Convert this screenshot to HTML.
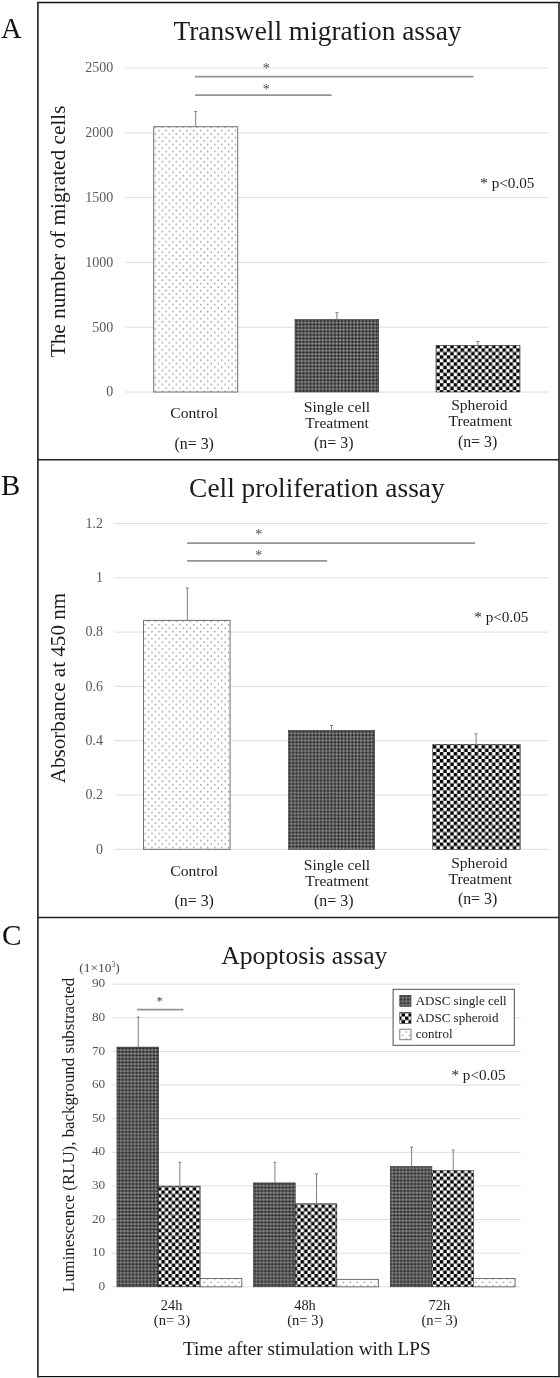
<!DOCTYPE html>
<html><head><meta charset="utf-8"><title>Figure</title>
<style>html,body{margin:0;padding:0;background:#fff}svg{display:block}text{font-family:"Liberation Serif",serif}</style>
</head><body>
<svg width="560" height="1378" viewBox="0 0 560 1378">
<defs>
<pattern id="dots" width="55.680" height="55.680" patternUnits="userSpaceOnUse" patternTransform="translate(1.2,0.6)">
<rect width="55.680" height="55.680" fill="#fff"/>
<circle cx="1.20" cy="1.20" r="0.85" fill="#a0a0a0"/>
<circle cx="4.68" cy="4.68" r="0.85" fill="#a0a0a0"/>
<circle cx="1.20" cy="8.16" r="0.85" fill="#a0a0a0"/>
<circle cx="4.68" cy="11.64" r="0.85" fill="#a0a0a0"/>
<circle cx="1.20" cy="15.12" r="0.85" fill="#a0a0a0"/>
<circle cx="4.68" cy="18.60" r="0.85" fill="#a0a0a0"/>
<circle cx="1.20" cy="22.08" r="0.85" fill="#a0a0a0"/>
<circle cx="4.68" cy="25.56" r="0.85" fill="#a0a0a0"/>
<circle cx="1.20" cy="29.04" r="0.85" fill="#a0a0a0"/>
<circle cx="4.68" cy="32.52" r="0.85" fill="#a0a0a0"/>
<circle cx="1.20" cy="36.00" r="0.85" fill="#a0a0a0"/>
<circle cx="4.68" cy="39.48" r="0.85" fill="#a0a0a0"/>
<circle cx="1.20" cy="42.96" r="0.85" fill="#a0a0a0"/>
<circle cx="4.68" cy="46.44" r="0.85" fill="#a0a0a0"/>
<circle cx="1.20" cy="49.92" r="0.85" fill="#a0a0a0"/>
<circle cx="4.68" cy="53.40" r="0.85" fill="#a0a0a0"/>
<circle cx="8.16" cy="1.20" r="0.85" fill="#a0a0a0"/>
<circle cx="11.64" cy="4.68" r="0.85" fill="#a0a0a0"/>
<circle cx="8.16" cy="8.16" r="0.85" fill="#a0a0a0"/>
<circle cx="11.64" cy="11.64" r="0.85" fill="#a0a0a0"/>
<circle cx="8.16" cy="15.12" r="0.85" fill="#a0a0a0"/>
<circle cx="11.64" cy="18.60" r="0.85" fill="#a0a0a0"/>
<circle cx="8.16" cy="22.08" r="0.85" fill="#a0a0a0"/>
<circle cx="11.64" cy="25.56" r="0.85" fill="#a0a0a0"/>
<circle cx="8.16" cy="29.04" r="0.85" fill="#a0a0a0"/>
<circle cx="11.64" cy="32.52" r="0.85" fill="#a0a0a0"/>
<circle cx="8.16" cy="36.00" r="0.85" fill="#a0a0a0"/>
<circle cx="11.64" cy="39.48" r="0.85" fill="#a0a0a0"/>
<circle cx="8.16" cy="42.96" r="0.85" fill="#a0a0a0"/>
<circle cx="11.64" cy="46.44" r="0.85" fill="#a0a0a0"/>
<circle cx="8.16" cy="49.92" r="0.85" fill="#a0a0a0"/>
<circle cx="11.64" cy="53.40" r="0.85" fill="#a0a0a0"/>
<circle cx="15.12" cy="1.20" r="0.85" fill="#a0a0a0"/>
<circle cx="18.60" cy="4.68" r="0.85" fill="#a0a0a0"/>
<circle cx="15.12" cy="8.16" r="0.85" fill="#a0a0a0"/>
<circle cx="18.60" cy="11.64" r="0.85" fill="#a0a0a0"/>
<circle cx="15.12" cy="15.12" r="0.85" fill="#a0a0a0"/>
<circle cx="18.60" cy="18.60" r="0.85" fill="#a0a0a0"/>
<circle cx="15.12" cy="22.08" r="0.85" fill="#a0a0a0"/>
<circle cx="18.60" cy="25.56" r="0.85" fill="#a0a0a0"/>
<circle cx="15.12" cy="29.04" r="0.85" fill="#a0a0a0"/>
<circle cx="18.60" cy="32.52" r="0.85" fill="#a0a0a0"/>
<circle cx="15.12" cy="36.00" r="0.85" fill="#a0a0a0"/>
<circle cx="18.60" cy="39.48" r="0.85" fill="#a0a0a0"/>
<circle cx="15.12" cy="42.96" r="0.85" fill="#a0a0a0"/>
<circle cx="18.60" cy="46.44" r="0.85" fill="#a0a0a0"/>
<circle cx="15.12" cy="49.92" r="0.85" fill="#a0a0a0"/>
<circle cx="18.60" cy="53.40" r="0.85" fill="#a0a0a0"/>
<circle cx="22.08" cy="1.20" r="0.85" fill="#a0a0a0"/>
<circle cx="25.56" cy="4.68" r="0.85" fill="#a0a0a0"/>
<circle cx="22.08" cy="8.16" r="0.85" fill="#a0a0a0"/>
<circle cx="25.56" cy="11.64" r="0.85" fill="#a0a0a0"/>
<circle cx="22.08" cy="15.12" r="0.85" fill="#a0a0a0"/>
<circle cx="25.56" cy="18.60" r="0.85" fill="#a0a0a0"/>
<circle cx="22.08" cy="22.08" r="0.85" fill="#a0a0a0"/>
<circle cx="25.56" cy="25.56" r="0.85" fill="#a0a0a0"/>
<circle cx="22.08" cy="29.04" r="0.85" fill="#a0a0a0"/>
<circle cx="25.56" cy="32.52" r="0.85" fill="#a0a0a0"/>
<circle cx="22.08" cy="36.00" r="0.85" fill="#a0a0a0"/>
<circle cx="25.56" cy="39.48" r="0.85" fill="#a0a0a0"/>
<circle cx="22.08" cy="42.96" r="0.85" fill="#a0a0a0"/>
<circle cx="25.56" cy="46.44" r="0.85" fill="#a0a0a0"/>
<circle cx="22.08" cy="49.92" r="0.85" fill="#a0a0a0"/>
<circle cx="25.56" cy="53.40" r="0.85" fill="#a0a0a0"/>
<circle cx="29.04" cy="1.20" r="0.85" fill="#a0a0a0"/>
<circle cx="32.52" cy="4.68" r="0.85" fill="#a0a0a0"/>
<circle cx="29.04" cy="8.16" r="0.85" fill="#a0a0a0"/>
<circle cx="32.52" cy="11.64" r="0.85" fill="#a0a0a0"/>
<circle cx="29.04" cy="15.12" r="0.85" fill="#a0a0a0"/>
<circle cx="32.52" cy="18.60" r="0.85" fill="#a0a0a0"/>
<circle cx="29.04" cy="22.08" r="0.85" fill="#a0a0a0"/>
<circle cx="32.52" cy="25.56" r="0.85" fill="#a0a0a0"/>
<circle cx="29.04" cy="29.04" r="0.85" fill="#a0a0a0"/>
<circle cx="32.52" cy="32.52" r="0.85" fill="#a0a0a0"/>
<circle cx="29.04" cy="36.00" r="0.85" fill="#a0a0a0"/>
<circle cx="32.52" cy="39.48" r="0.85" fill="#a0a0a0"/>
<circle cx="29.04" cy="42.96" r="0.85" fill="#a0a0a0"/>
<circle cx="32.52" cy="46.44" r="0.85" fill="#a0a0a0"/>
<circle cx="29.04" cy="49.92" r="0.85" fill="#a0a0a0"/>
<circle cx="32.52" cy="53.40" r="0.85" fill="#a0a0a0"/>
<circle cx="36.00" cy="1.20" r="0.85" fill="#a0a0a0"/>
<circle cx="39.48" cy="4.68" r="0.85" fill="#a0a0a0"/>
<circle cx="36.00" cy="8.16" r="0.85" fill="#a0a0a0"/>
<circle cx="39.48" cy="11.64" r="0.85" fill="#a0a0a0"/>
<circle cx="36.00" cy="15.12" r="0.85" fill="#a0a0a0"/>
<circle cx="39.48" cy="18.60" r="0.85" fill="#a0a0a0"/>
<circle cx="36.00" cy="22.08" r="0.85" fill="#a0a0a0"/>
<circle cx="39.48" cy="25.56" r="0.85" fill="#a0a0a0"/>
<circle cx="36.00" cy="29.04" r="0.85" fill="#a0a0a0"/>
<circle cx="39.48" cy="32.52" r="0.85" fill="#a0a0a0"/>
<circle cx="36.00" cy="36.00" r="0.85" fill="#a0a0a0"/>
<circle cx="39.48" cy="39.48" r="0.85" fill="#a0a0a0"/>
<circle cx="36.00" cy="42.96" r="0.85" fill="#a0a0a0"/>
<circle cx="39.48" cy="46.44" r="0.85" fill="#a0a0a0"/>
<circle cx="36.00" cy="49.92" r="0.85" fill="#a0a0a0"/>
<circle cx="39.48" cy="53.40" r="0.85" fill="#a0a0a0"/>
<circle cx="42.96" cy="1.20" r="0.85" fill="#a0a0a0"/>
<circle cx="46.44" cy="4.68" r="0.85" fill="#a0a0a0"/>
<circle cx="42.96" cy="8.16" r="0.85" fill="#a0a0a0"/>
<circle cx="46.44" cy="11.64" r="0.85" fill="#a0a0a0"/>
<circle cx="42.96" cy="15.12" r="0.85" fill="#a0a0a0"/>
<circle cx="46.44" cy="18.60" r="0.85" fill="#a0a0a0"/>
<circle cx="42.96" cy="22.08" r="0.85" fill="#a0a0a0"/>
<circle cx="46.44" cy="25.56" r="0.85" fill="#a0a0a0"/>
<circle cx="42.96" cy="29.04" r="0.85" fill="#a0a0a0"/>
<circle cx="46.44" cy="32.52" r="0.85" fill="#a0a0a0"/>
<circle cx="42.96" cy="36.00" r="0.85" fill="#a0a0a0"/>
<circle cx="46.44" cy="39.48" r="0.85" fill="#a0a0a0"/>
<circle cx="42.96" cy="42.96" r="0.85" fill="#a0a0a0"/>
<circle cx="46.44" cy="46.44" r="0.85" fill="#a0a0a0"/>
<circle cx="42.96" cy="49.92" r="0.85" fill="#a0a0a0"/>
<circle cx="46.44" cy="53.40" r="0.85" fill="#a0a0a0"/>
<circle cx="49.92" cy="1.20" r="0.85" fill="#a0a0a0"/>
<circle cx="53.40" cy="4.68" r="0.85" fill="#a0a0a0"/>
<circle cx="49.92" cy="8.16" r="0.85" fill="#a0a0a0"/>
<circle cx="53.40" cy="11.64" r="0.85" fill="#a0a0a0"/>
<circle cx="49.92" cy="15.12" r="0.85" fill="#a0a0a0"/>
<circle cx="53.40" cy="18.60" r="0.85" fill="#a0a0a0"/>
<circle cx="49.92" cy="22.08" r="0.85" fill="#a0a0a0"/>
<circle cx="53.40" cy="25.56" r="0.85" fill="#a0a0a0"/>
<circle cx="49.92" cy="29.04" r="0.85" fill="#a0a0a0"/>
<circle cx="53.40" cy="32.52" r="0.85" fill="#a0a0a0"/>
<circle cx="49.92" cy="36.00" r="0.85" fill="#a0a0a0"/>
<circle cx="53.40" cy="39.48" r="0.85" fill="#a0a0a0"/>
<circle cx="49.92" cy="42.96" r="0.85" fill="#a0a0a0"/>
<circle cx="53.40" cy="46.44" r="0.85" fill="#a0a0a0"/>
<circle cx="49.92" cy="49.92" r="0.85" fill="#a0a0a0"/>
<circle cx="53.40" cy="53.40" r="0.85" fill="#a0a0a0"/>
</pattern>
<pattern id="chk" width="55.680" height="55.680" patternUnits="userSpaceOnUse" patternTransform="translate(1.32,0.38)">
<rect width="55.680" height="55.680" fill="#fff"/>
<path d="M0.00 0.00h3.48v3.48h-3.48zM0.00 6.96h3.48v3.48h-3.48zM0.00 13.92h3.48v3.48h-3.48zM0.00 20.88h3.48v3.48h-3.48zM0.00 27.84h3.48v3.48h-3.48zM0.00 34.80h3.48v3.48h-3.48zM0.00 41.76h3.48v3.48h-3.48zM0.00 48.72h3.48v3.48h-3.48zM3.48 3.48h3.48v3.48h-3.48zM3.48 10.44h3.48v3.48h-3.48zM3.48 17.40h3.48v3.48h-3.48zM3.48 24.36h3.48v3.48h-3.48zM3.48 31.32h3.48v3.48h-3.48zM3.48 38.28h3.48v3.48h-3.48zM3.48 45.24h3.48v3.48h-3.48zM3.48 52.20h3.48v3.48h-3.48zM6.96 0.00h3.48v3.48h-3.48zM6.96 6.96h3.48v3.48h-3.48zM6.96 13.92h3.48v3.48h-3.48zM6.96 20.88h3.48v3.48h-3.48zM6.96 27.84h3.48v3.48h-3.48zM6.96 34.80h3.48v3.48h-3.48zM6.96 41.76h3.48v3.48h-3.48zM6.96 48.72h3.48v3.48h-3.48zM10.44 3.48h3.48v3.48h-3.48zM10.44 10.44h3.48v3.48h-3.48zM10.44 17.40h3.48v3.48h-3.48zM10.44 24.36h3.48v3.48h-3.48zM10.44 31.32h3.48v3.48h-3.48zM10.44 38.28h3.48v3.48h-3.48zM10.44 45.24h3.48v3.48h-3.48zM10.44 52.20h3.48v3.48h-3.48zM13.92 0.00h3.48v3.48h-3.48zM13.92 6.96h3.48v3.48h-3.48zM13.92 13.92h3.48v3.48h-3.48zM13.92 20.88h3.48v3.48h-3.48zM13.92 27.84h3.48v3.48h-3.48zM13.92 34.80h3.48v3.48h-3.48zM13.92 41.76h3.48v3.48h-3.48zM13.92 48.72h3.48v3.48h-3.48zM17.40 3.48h3.48v3.48h-3.48zM17.40 10.44h3.48v3.48h-3.48zM17.40 17.40h3.48v3.48h-3.48zM17.40 24.36h3.48v3.48h-3.48zM17.40 31.32h3.48v3.48h-3.48zM17.40 38.28h3.48v3.48h-3.48zM17.40 45.24h3.48v3.48h-3.48zM17.40 52.20h3.48v3.48h-3.48zM20.88 0.00h3.48v3.48h-3.48zM20.88 6.96h3.48v3.48h-3.48zM20.88 13.92h3.48v3.48h-3.48zM20.88 20.88h3.48v3.48h-3.48zM20.88 27.84h3.48v3.48h-3.48zM20.88 34.80h3.48v3.48h-3.48zM20.88 41.76h3.48v3.48h-3.48zM20.88 48.72h3.48v3.48h-3.48zM24.36 3.48h3.48v3.48h-3.48zM24.36 10.44h3.48v3.48h-3.48zM24.36 17.40h3.48v3.48h-3.48zM24.36 24.36h3.48v3.48h-3.48zM24.36 31.32h3.48v3.48h-3.48zM24.36 38.28h3.48v3.48h-3.48zM24.36 45.24h3.48v3.48h-3.48zM24.36 52.20h3.48v3.48h-3.48zM27.84 0.00h3.48v3.48h-3.48zM27.84 6.96h3.48v3.48h-3.48zM27.84 13.92h3.48v3.48h-3.48zM27.84 20.88h3.48v3.48h-3.48zM27.84 27.84h3.48v3.48h-3.48zM27.84 34.80h3.48v3.48h-3.48zM27.84 41.76h3.48v3.48h-3.48zM27.84 48.72h3.48v3.48h-3.48zM31.32 3.48h3.48v3.48h-3.48zM31.32 10.44h3.48v3.48h-3.48zM31.32 17.40h3.48v3.48h-3.48zM31.32 24.36h3.48v3.48h-3.48zM31.32 31.32h3.48v3.48h-3.48zM31.32 38.28h3.48v3.48h-3.48zM31.32 45.24h3.48v3.48h-3.48zM31.32 52.20h3.48v3.48h-3.48zM34.80 0.00h3.48v3.48h-3.48zM34.80 6.96h3.48v3.48h-3.48zM34.80 13.92h3.48v3.48h-3.48zM34.80 20.88h3.48v3.48h-3.48zM34.80 27.84h3.48v3.48h-3.48zM34.80 34.80h3.48v3.48h-3.48zM34.80 41.76h3.48v3.48h-3.48zM34.80 48.72h3.48v3.48h-3.48zM38.28 3.48h3.48v3.48h-3.48zM38.28 10.44h3.48v3.48h-3.48zM38.28 17.40h3.48v3.48h-3.48zM38.28 24.36h3.48v3.48h-3.48zM38.28 31.32h3.48v3.48h-3.48zM38.28 38.28h3.48v3.48h-3.48zM38.28 45.24h3.48v3.48h-3.48zM38.28 52.20h3.48v3.48h-3.48zM41.76 0.00h3.48v3.48h-3.48zM41.76 6.96h3.48v3.48h-3.48zM41.76 13.92h3.48v3.48h-3.48zM41.76 20.88h3.48v3.48h-3.48zM41.76 27.84h3.48v3.48h-3.48zM41.76 34.80h3.48v3.48h-3.48zM41.76 41.76h3.48v3.48h-3.48zM41.76 48.72h3.48v3.48h-3.48zM45.24 3.48h3.48v3.48h-3.48zM45.24 10.44h3.48v3.48h-3.48zM45.24 17.40h3.48v3.48h-3.48zM45.24 24.36h3.48v3.48h-3.48zM45.24 31.32h3.48v3.48h-3.48zM45.24 38.28h3.48v3.48h-3.48zM45.24 45.24h3.48v3.48h-3.48zM45.24 52.20h3.48v3.48h-3.48zM48.72 0.00h3.48v3.48h-3.48zM48.72 6.96h3.48v3.48h-3.48zM48.72 13.92h3.48v3.48h-3.48zM48.72 20.88h3.48v3.48h-3.48zM48.72 27.84h3.48v3.48h-3.48zM48.72 34.80h3.48v3.48h-3.48zM48.72 41.76h3.48v3.48h-3.48zM48.72 48.72h3.48v3.48h-3.48zM52.20 3.48h3.48v3.48h-3.48zM52.20 10.44h3.48v3.48h-3.48zM52.20 17.40h3.48v3.48h-3.48zM52.20 24.36h3.48v3.48h-3.48zM52.20 31.32h3.48v3.48h-3.48zM52.20 38.28h3.48v3.48h-3.48zM52.20 45.24h3.48v3.48h-3.48zM52.20 52.20h3.48v3.48h-3.48z" fill="#000"/>
</pattern>
<pattern id="fine" width="55.680" height="55.680" patternUnits="userSpaceOnUse">
<rect width="55.680" height="55.680" fill="#595959"/>
<circle cx="0.87" cy="0.87" r="0.72" fill="#000"/>
<circle cx="2.61" cy="2.61" r="0.72" fill="#bcbcbc"/>
<circle cx="0.87" cy="4.35" r="0.72" fill="#000"/>
<circle cx="2.61" cy="6.09" r="0.72" fill="#bcbcbc"/>
<circle cx="0.87" cy="7.83" r="0.72" fill="#000"/>
<circle cx="2.61" cy="9.57" r="0.72" fill="#bcbcbc"/>
<circle cx="0.87" cy="11.31" r="0.72" fill="#000"/>
<circle cx="2.61" cy="13.05" r="0.72" fill="#bcbcbc"/>
<circle cx="0.87" cy="14.79" r="0.72" fill="#000"/>
<circle cx="2.61" cy="16.53" r="0.72" fill="#bcbcbc"/>
<circle cx="0.87" cy="18.27" r="0.72" fill="#000"/>
<circle cx="2.61" cy="20.01" r="0.72" fill="#bcbcbc"/>
<circle cx="0.87" cy="21.75" r="0.72" fill="#000"/>
<circle cx="2.61" cy="23.49" r="0.72" fill="#bcbcbc"/>
<circle cx="0.87" cy="25.23" r="0.72" fill="#000"/>
<circle cx="2.61" cy="26.97" r="0.72" fill="#bcbcbc"/>
<circle cx="0.87" cy="28.71" r="0.72" fill="#000"/>
<circle cx="2.61" cy="30.45" r="0.72" fill="#bcbcbc"/>
<circle cx="0.87" cy="32.19" r="0.72" fill="#000"/>
<circle cx="2.61" cy="33.93" r="0.72" fill="#bcbcbc"/>
<circle cx="0.87" cy="35.67" r="0.72" fill="#000"/>
<circle cx="2.61" cy="37.41" r="0.72" fill="#bcbcbc"/>
<circle cx="0.87" cy="39.15" r="0.72" fill="#000"/>
<circle cx="2.61" cy="40.89" r="0.72" fill="#bcbcbc"/>
<circle cx="0.87" cy="42.63" r="0.72" fill="#000"/>
<circle cx="2.61" cy="44.37" r="0.72" fill="#bcbcbc"/>
<circle cx="0.87" cy="46.11" r="0.72" fill="#000"/>
<circle cx="2.61" cy="47.85" r="0.72" fill="#bcbcbc"/>
<circle cx="0.87" cy="49.59" r="0.72" fill="#000"/>
<circle cx="2.61" cy="51.33" r="0.72" fill="#bcbcbc"/>
<circle cx="0.87" cy="53.07" r="0.72" fill="#000"/>
<circle cx="2.61" cy="54.81" r="0.72" fill="#bcbcbc"/>
<circle cx="4.35" cy="0.87" r="0.72" fill="#000"/>
<circle cx="6.09" cy="2.61" r="0.72" fill="#bcbcbc"/>
<circle cx="4.35" cy="4.35" r="0.72" fill="#000"/>
<circle cx="6.09" cy="6.09" r="0.72" fill="#bcbcbc"/>
<circle cx="4.35" cy="7.83" r="0.72" fill="#000"/>
<circle cx="6.09" cy="9.57" r="0.72" fill="#bcbcbc"/>
<circle cx="4.35" cy="11.31" r="0.72" fill="#000"/>
<circle cx="6.09" cy="13.05" r="0.72" fill="#bcbcbc"/>
<circle cx="4.35" cy="14.79" r="0.72" fill="#000"/>
<circle cx="6.09" cy="16.53" r="0.72" fill="#bcbcbc"/>
<circle cx="4.35" cy="18.27" r="0.72" fill="#000"/>
<circle cx="6.09" cy="20.01" r="0.72" fill="#bcbcbc"/>
<circle cx="4.35" cy="21.75" r="0.72" fill="#000"/>
<circle cx="6.09" cy="23.49" r="0.72" fill="#bcbcbc"/>
<circle cx="4.35" cy="25.23" r="0.72" fill="#000"/>
<circle cx="6.09" cy="26.97" r="0.72" fill="#bcbcbc"/>
<circle cx="4.35" cy="28.71" r="0.72" fill="#000"/>
<circle cx="6.09" cy="30.45" r="0.72" fill="#bcbcbc"/>
<circle cx="4.35" cy="32.19" r="0.72" fill="#000"/>
<circle cx="6.09" cy="33.93" r="0.72" fill="#bcbcbc"/>
<circle cx="4.35" cy="35.67" r="0.72" fill="#000"/>
<circle cx="6.09" cy="37.41" r="0.72" fill="#bcbcbc"/>
<circle cx="4.35" cy="39.15" r="0.72" fill="#000"/>
<circle cx="6.09" cy="40.89" r="0.72" fill="#bcbcbc"/>
<circle cx="4.35" cy="42.63" r="0.72" fill="#000"/>
<circle cx="6.09" cy="44.37" r="0.72" fill="#bcbcbc"/>
<circle cx="4.35" cy="46.11" r="0.72" fill="#000"/>
<circle cx="6.09" cy="47.85" r="0.72" fill="#bcbcbc"/>
<circle cx="4.35" cy="49.59" r="0.72" fill="#000"/>
<circle cx="6.09" cy="51.33" r="0.72" fill="#bcbcbc"/>
<circle cx="4.35" cy="53.07" r="0.72" fill="#000"/>
<circle cx="6.09" cy="54.81" r="0.72" fill="#bcbcbc"/>
<circle cx="7.83" cy="0.87" r="0.72" fill="#000"/>
<circle cx="9.57" cy="2.61" r="0.72" fill="#bcbcbc"/>
<circle cx="7.83" cy="4.35" r="0.72" fill="#000"/>
<circle cx="9.57" cy="6.09" r="0.72" fill="#bcbcbc"/>
<circle cx="7.83" cy="7.83" r="0.72" fill="#000"/>
<circle cx="9.57" cy="9.57" r="0.72" fill="#bcbcbc"/>
<circle cx="7.83" cy="11.31" r="0.72" fill="#000"/>
<circle cx="9.57" cy="13.05" r="0.72" fill="#bcbcbc"/>
<circle cx="7.83" cy="14.79" r="0.72" fill="#000"/>
<circle cx="9.57" cy="16.53" r="0.72" fill="#bcbcbc"/>
<circle cx="7.83" cy="18.27" r="0.72" fill="#000"/>
<circle cx="9.57" cy="20.01" r="0.72" fill="#bcbcbc"/>
<circle cx="7.83" cy="21.75" r="0.72" fill="#000"/>
<circle cx="9.57" cy="23.49" r="0.72" fill="#bcbcbc"/>
<circle cx="7.83" cy="25.23" r="0.72" fill="#000"/>
<circle cx="9.57" cy="26.97" r="0.72" fill="#bcbcbc"/>
<circle cx="7.83" cy="28.71" r="0.72" fill="#000"/>
<circle cx="9.57" cy="30.45" r="0.72" fill="#bcbcbc"/>
<circle cx="7.83" cy="32.19" r="0.72" fill="#000"/>
<circle cx="9.57" cy="33.93" r="0.72" fill="#bcbcbc"/>
<circle cx="7.83" cy="35.67" r="0.72" fill="#000"/>
<circle cx="9.57" cy="37.41" r="0.72" fill="#bcbcbc"/>
<circle cx="7.83" cy="39.15" r="0.72" fill="#000"/>
<circle cx="9.57" cy="40.89" r="0.72" fill="#bcbcbc"/>
<circle cx="7.83" cy="42.63" r="0.72" fill="#000"/>
<circle cx="9.57" cy="44.37" r="0.72" fill="#bcbcbc"/>
<circle cx="7.83" cy="46.11" r="0.72" fill="#000"/>
<circle cx="9.57" cy="47.85" r="0.72" fill="#bcbcbc"/>
<circle cx="7.83" cy="49.59" r="0.72" fill="#000"/>
<circle cx="9.57" cy="51.33" r="0.72" fill="#bcbcbc"/>
<circle cx="7.83" cy="53.07" r="0.72" fill="#000"/>
<circle cx="9.57" cy="54.81" r="0.72" fill="#bcbcbc"/>
<circle cx="11.31" cy="0.87" r="0.72" fill="#000"/>
<circle cx="13.05" cy="2.61" r="0.72" fill="#bcbcbc"/>
<circle cx="11.31" cy="4.35" r="0.72" fill="#000"/>
<circle cx="13.05" cy="6.09" r="0.72" fill="#bcbcbc"/>
<circle cx="11.31" cy="7.83" r="0.72" fill="#000"/>
<circle cx="13.05" cy="9.57" r="0.72" fill="#bcbcbc"/>
<circle cx="11.31" cy="11.31" r="0.72" fill="#000"/>
<circle cx="13.05" cy="13.05" r="0.72" fill="#bcbcbc"/>
<circle cx="11.31" cy="14.79" r="0.72" fill="#000"/>
<circle cx="13.05" cy="16.53" r="0.72" fill="#bcbcbc"/>
<circle cx="11.31" cy="18.27" r="0.72" fill="#000"/>
<circle cx="13.05" cy="20.01" r="0.72" fill="#bcbcbc"/>
<circle cx="11.31" cy="21.75" r="0.72" fill="#000"/>
<circle cx="13.05" cy="23.49" r="0.72" fill="#bcbcbc"/>
<circle cx="11.31" cy="25.23" r="0.72" fill="#000"/>
<circle cx="13.05" cy="26.97" r="0.72" fill="#bcbcbc"/>
<circle cx="11.31" cy="28.71" r="0.72" fill="#000"/>
<circle cx="13.05" cy="30.45" r="0.72" fill="#bcbcbc"/>
<circle cx="11.31" cy="32.19" r="0.72" fill="#000"/>
<circle cx="13.05" cy="33.93" r="0.72" fill="#bcbcbc"/>
<circle cx="11.31" cy="35.67" r="0.72" fill="#000"/>
<circle cx="13.05" cy="37.41" r="0.72" fill="#bcbcbc"/>
<circle cx="11.31" cy="39.15" r="0.72" fill="#000"/>
<circle cx="13.05" cy="40.89" r="0.72" fill="#bcbcbc"/>
<circle cx="11.31" cy="42.63" r="0.72" fill="#000"/>
<circle cx="13.05" cy="44.37" r="0.72" fill="#bcbcbc"/>
<circle cx="11.31" cy="46.11" r="0.72" fill="#000"/>
<circle cx="13.05" cy="47.85" r="0.72" fill="#bcbcbc"/>
<circle cx="11.31" cy="49.59" r="0.72" fill="#000"/>
<circle cx="13.05" cy="51.33" r="0.72" fill="#bcbcbc"/>
<circle cx="11.31" cy="53.07" r="0.72" fill="#000"/>
<circle cx="13.05" cy="54.81" r="0.72" fill="#bcbcbc"/>
<circle cx="14.79" cy="0.87" r="0.72" fill="#000"/>
<circle cx="16.53" cy="2.61" r="0.72" fill="#bcbcbc"/>
<circle cx="14.79" cy="4.35" r="0.72" fill="#000"/>
<circle cx="16.53" cy="6.09" r="0.72" fill="#bcbcbc"/>
<circle cx="14.79" cy="7.83" r="0.72" fill="#000"/>
<circle cx="16.53" cy="9.57" r="0.72" fill="#bcbcbc"/>
<circle cx="14.79" cy="11.31" r="0.72" fill="#000"/>
<circle cx="16.53" cy="13.05" r="0.72" fill="#bcbcbc"/>
<circle cx="14.79" cy="14.79" r="0.72" fill="#000"/>
<circle cx="16.53" cy="16.53" r="0.72" fill="#bcbcbc"/>
<circle cx="14.79" cy="18.27" r="0.72" fill="#000"/>
<circle cx="16.53" cy="20.01" r="0.72" fill="#bcbcbc"/>
<circle cx="14.79" cy="21.75" r="0.72" fill="#000"/>
<circle cx="16.53" cy="23.49" r="0.72" fill="#bcbcbc"/>
<circle cx="14.79" cy="25.23" r="0.72" fill="#000"/>
<circle cx="16.53" cy="26.97" r="0.72" fill="#bcbcbc"/>
<circle cx="14.79" cy="28.71" r="0.72" fill="#000"/>
<circle cx="16.53" cy="30.45" r="0.72" fill="#bcbcbc"/>
<circle cx="14.79" cy="32.19" r="0.72" fill="#000"/>
<circle cx="16.53" cy="33.93" r="0.72" fill="#bcbcbc"/>
<circle cx="14.79" cy="35.67" r="0.72" fill="#000"/>
<circle cx="16.53" cy="37.41" r="0.72" fill="#bcbcbc"/>
<circle cx="14.79" cy="39.15" r="0.72" fill="#000"/>
<circle cx="16.53" cy="40.89" r="0.72" fill="#bcbcbc"/>
<circle cx="14.79" cy="42.63" r="0.72" fill="#000"/>
<circle cx="16.53" cy="44.37" r="0.72" fill="#bcbcbc"/>
<circle cx="14.79" cy="46.11" r="0.72" fill="#000"/>
<circle cx="16.53" cy="47.85" r="0.72" fill="#bcbcbc"/>
<circle cx="14.79" cy="49.59" r="0.72" fill="#000"/>
<circle cx="16.53" cy="51.33" r="0.72" fill="#bcbcbc"/>
<circle cx="14.79" cy="53.07" r="0.72" fill="#000"/>
<circle cx="16.53" cy="54.81" r="0.72" fill="#bcbcbc"/>
<circle cx="18.27" cy="0.87" r="0.72" fill="#000"/>
<circle cx="20.01" cy="2.61" r="0.72" fill="#bcbcbc"/>
<circle cx="18.27" cy="4.35" r="0.72" fill="#000"/>
<circle cx="20.01" cy="6.09" r="0.72" fill="#bcbcbc"/>
<circle cx="18.27" cy="7.83" r="0.72" fill="#000"/>
<circle cx="20.01" cy="9.57" r="0.72" fill="#bcbcbc"/>
<circle cx="18.27" cy="11.31" r="0.72" fill="#000"/>
<circle cx="20.01" cy="13.05" r="0.72" fill="#bcbcbc"/>
<circle cx="18.27" cy="14.79" r="0.72" fill="#000"/>
<circle cx="20.01" cy="16.53" r="0.72" fill="#bcbcbc"/>
<circle cx="18.27" cy="18.27" r="0.72" fill="#000"/>
<circle cx="20.01" cy="20.01" r="0.72" fill="#bcbcbc"/>
<circle cx="18.27" cy="21.75" r="0.72" fill="#000"/>
<circle cx="20.01" cy="23.49" r="0.72" fill="#bcbcbc"/>
<circle cx="18.27" cy="25.23" r="0.72" fill="#000"/>
<circle cx="20.01" cy="26.97" r="0.72" fill="#bcbcbc"/>
<circle cx="18.27" cy="28.71" r="0.72" fill="#000"/>
<circle cx="20.01" cy="30.45" r="0.72" fill="#bcbcbc"/>
<circle cx="18.27" cy="32.19" r="0.72" fill="#000"/>
<circle cx="20.01" cy="33.93" r="0.72" fill="#bcbcbc"/>
<circle cx="18.27" cy="35.67" r="0.72" fill="#000"/>
<circle cx="20.01" cy="37.41" r="0.72" fill="#bcbcbc"/>
<circle cx="18.27" cy="39.15" r="0.72" fill="#000"/>
<circle cx="20.01" cy="40.89" r="0.72" fill="#bcbcbc"/>
<circle cx="18.27" cy="42.63" r="0.72" fill="#000"/>
<circle cx="20.01" cy="44.37" r="0.72" fill="#bcbcbc"/>
<circle cx="18.27" cy="46.11" r="0.72" fill="#000"/>
<circle cx="20.01" cy="47.85" r="0.72" fill="#bcbcbc"/>
<circle cx="18.27" cy="49.59" r="0.72" fill="#000"/>
<circle cx="20.01" cy="51.33" r="0.72" fill="#bcbcbc"/>
<circle cx="18.27" cy="53.07" r="0.72" fill="#000"/>
<circle cx="20.01" cy="54.81" r="0.72" fill="#bcbcbc"/>
<circle cx="21.75" cy="0.87" r="0.72" fill="#000"/>
<circle cx="23.49" cy="2.61" r="0.72" fill="#bcbcbc"/>
<circle cx="21.75" cy="4.35" r="0.72" fill="#000"/>
<circle cx="23.49" cy="6.09" r="0.72" fill="#bcbcbc"/>
<circle cx="21.75" cy="7.83" r="0.72" fill="#000"/>
<circle cx="23.49" cy="9.57" r="0.72" fill="#bcbcbc"/>
<circle cx="21.75" cy="11.31" r="0.72" fill="#000"/>
<circle cx="23.49" cy="13.05" r="0.72" fill="#bcbcbc"/>
<circle cx="21.75" cy="14.79" r="0.72" fill="#000"/>
<circle cx="23.49" cy="16.53" r="0.72" fill="#bcbcbc"/>
<circle cx="21.75" cy="18.27" r="0.72" fill="#000"/>
<circle cx="23.49" cy="20.01" r="0.72" fill="#bcbcbc"/>
<circle cx="21.75" cy="21.75" r="0.72" fill="#000"/>
<circle cx="23.49" cy="23.49" r="0.72" fill="#bcbcbc"/>
<circle cx="21.75" cy="25.23" r="0.72" fill="#000"/>
<circle cx="23.49" cy="26.97" r="0.72" fill="#bcbcbc"/>
<circle cx="21.75" cy="28.71" r="0.72" fill="#000"/>
<circle cx="23.49" cy="30.45" r="0.72" fill="#bcbcbc"/>
<circle cx="21.75" cy="32.19" r="0.72" fill="#000"/>
<circle cx="23.49" cy="33.93" r="0.72" fill="#bcbcbc"/>
<circle cx="21.75" cy="35.67" r="0.72" fill="#000"/>
<circle cx="23.49" cy="37.41" r="0.72" fill="#bcbcbc"/>
<circle cx="21.75" cy="39.15" r="0.72" fill="#000"/>
<circle cx="23.49" cy="40.89" r="0.72" fill="#bcbcbc"/>
<circle cx="21.75" cy="42.63" r="0.72" fill="#000"/>
<circle cx="23.49" cy="44.37" r="0.72" fill="#bcbcbc"/>
<circle cx="21.75" cy="46.11" r="0.72" fill="#000"/>
<circle cx="23.49" cy="47.85" r="0.72" fill="#bcbcbc"/>
<circle cx="21.75" cy="49.59" r="0.72" fill="#000"/>
<circle cx="23.49" cy="51.33" r="0.72" fill="#bcbcbc"/>
<circle cx="21.75" cy="53.07" r="0.72" fill="#000"/>
<circle cx="23.49" cy="54.81" r="0.72" fill="#bcbcbc"/>
<circle cx="25.23" cy="0.87" r="0.72" fill="#000"/>
<circle cx="26.97" cy="2.61" r="0.72" fill="#bcbcbc"/>
<circle cx="25.23" cy="4.35" r="0.72" fill="#000"/>
<circle cx="26.97" cy="6.09" r="0.72" fill="#bcbcbc"/>
<circle cx="25.23" cy="7.83" r="0.72" fill="#000"/>
<circle cx="26.97" cy="9.57" r="0.72" fill="#bcbcbc"/>
<circle cx="25.23" cy="11.31" r="0.72" fill="#000"/>
<circle cx="26.97" cy="13.05" r="0.72" fill="#bcbcbc"/>
<circle cx="25.23" cy="14.79" r="0.72" fill="#000"/>
<circle cx="26.97" cy="16.53" r="0.72" fill="#bcbcbc"/>
<circle cx="25.23" cy="18.27" r="0.72" fill="#000"/>
<circle cx="26.97" cy="20.01" r="0.72" fill="#bcbcbc"/>
<circle cx="25.23" cy="21.75" r="0.72" fill="#000"/>
<circle cx="26.97" cy="23.49" r="0.72" fill="#bcbcbc"/>
<circle cx="25.23" cy="25.23" r="0.72" fill="#000"/>
<circle cx="26.97" cy="26.97" r="0.72" fill="#bcbcbc"/>
<circle cx="25.23" cy="28.71" r="0.72" fill="#000"/>
<circle cx="26.97" cy="30.45" r="0.72" fill="#bcbcbc"/>
<circle cx="25.23" cy="32.19" r="0.72" fill="#000"/>
<circle cx="26.97" cy="33.93" r="0.72" fill="#bcbcbc"/>
<circle cx="25.23" cy="35.67" r="0.72" fill="#000"/>
<circle cx="26.97" cy="37.41" r="0.72" fill="#bcbcbc"/>
<circle cx="25.23" cy="39.15" r="0.72" fill="#000"/>
<circle cx="26.97" cy="40.89" r="0.72" fill="#bcbcbc"/>
<circle cx="25.23" cy="42.63" r="0.72" fill="#000"/>
<circle cx="26.97" cy="44.37" r="0.72" fill="#bcbcbc"/>
<circle cx="25.23" cy="46.11" r="0.72" fill="#000"/>
<circle cx="26.97" cy="47.85" r="0.72" fill="#bcbcbc"/>
<circle cx="25.23" cy="49.59" r="0.72" fill="#000"/>
<circle cx="26.97" cy="51.33" r="0.72" fill="#bcbcbc"/>
<circle cx="25.23" cy="53.07" r="0.72" fill="#000"/>
<circle cx="26.97" cy="54.81" r="0.72" fill="#bcbcbc"/>
<circle cx="28.71" cy="0.87" r="0.72" fill="#000"/>
<circle cx="30.45" cy="2.61" r="0.72" fill="#bcbcbc"/>
<circle cx="28.71" cy="4.35" r="0.72" fill="#000"/>
<circle cx="30.45" cy="6.09" r="0.72" fill="#bcbcbc"/>
<circle cx="28.71" cy="7.83" r="0.72" fill="#000"/>
<circle cx="30.45" cy="9.57" r="0.72" fill="#bcbcbc"/>
<circle cx="28.71" cy="11.31" r="0.72" fill="#000"/>
<circle cx="30.45" cy="13.05" r="0.72" fill="#bcbcbc"/>
<circle cx="28.71" cy="14.79" r="0.72" fill="#000"/>
<circle cx="30.45" cy="16.53" r="0.72" fill="#bcbcbc"/>
<circle cx="28.71" cy="18.27" r="0.72" fill="#000"/>
<circle cx="30.45" cy="20.01" r="0.72" fill="#bcbcbc"/>
<circle cx="28.71" cy="21.75" r="0.72" fill="#000"/>
<circle cx="30.45" cy="23.49" r="0.72" fill="#bcbcbc"/>
<circle cx="28.71" cy="25.23" r="0.72" fill="#000"/>
<circle cx="30.45" cy="26.97" r="0.72" fill="#bcbcbc"/>
<circle cx="28.71" cy="28.71" r="0.72" fill="#000"/>
<circle cx="30.45" cy="30.45" r="0.72" fill="#bcbcbc"/>
<circle cx="28.71" cy="32.19" r="0.72" fill="#000"/>
<circle cx="30.45" cy="33.93" r="0.72" fill="#bcbcbc"/>
<circle cx="28.71" cy="35.67" r="0.72" fill="#000"/>
<circle cx="30.45" cy="37.41" r="0.72" fill="#bcbcbc"/>
<circle cx="28.71" cy="39.15" r="0.72" fill="#000"/>
<circle cx="30.45" cy="40.89" r="0.72" fill="#bcbcbc"/>
<circle cx="28.71" cy="42.63" r="0.72" fill="#000"/>
<circle cx="30.45" cy="44.37" r="0.72" fill="#bcbcbc"/>
<circle cx="28.71" cy="46.11" r="0.72" fill="#000"/>
<circle cx="30.45" cy="47.85" r="0.72" fill="#bcbcbc"/>
<circle cx="28.71" cy="49.59" r="0.72" fill="#000"/>
<circle cx="30.45" cy="51.33" r="0.72" fill="#bcbcbc"/>
<circle cx="28.71" cy="53.07" r="0.72" fill="#000"/>
<circle cx="30.45" cy="54.81" r="0.72" fill="#bcbcbc"/>
<circle cx="32.19" cy="0.87" r="0.72" fill="#000"/>
<circle cx="33.93" cy="2.61" r="0.72" fill="#bcbcbc"/>
<circle cx="32.19" cy="4.35" r="0.72" fill="#000"/>
<circle cx="33.93" cy="6.09" r="0.72" fill="#bcbcbc"/>
<circle cx="32.19" cy="7.83" r="0.72" fill="#000"/>
<circle cx="33.93" cy="9.57" r="0.72" fill="#bcbcbc"/>
<circle cx="32.19" cy="11.31" r="0.72" fill="#000"/>
<circle cx="33.93" cy="13.05" r="0.72" fill="#bcbcbc"/>
<circle cx="32.19" cy="14.79" r="0.72" fill="#000"/>
<circle cx="33.93" cy="16.53" r="0.72" fill="#bcbcbc"/>
<circle cx="32.19" cy="18.27" r="0.72" fill="#000"/>
<circle cx="33.93" cy="20.01" r="0.72" fill="#bcbcbc"/>
<circle cx="32.19" cy="21.75" r="0.72" fill="#000"/>
<circle cx="33.93" cy="23.49" r="0.72" fill="#bcbcbc"/>
<circle cx="32.19" cy="25.23" r="0.72" fill="#000"/>
<circle cx="33.93" cy="26.97" r="0.72" fill="#bcbcbc"/>
<circle cx="32.19" cy="28.71" r="0.72" fill="#000"/>
<circle cx="33.93" cy="30.45" r="0.72" fill="#bcbcbc"/>
<circle cx="32.19" cy="32.19" r="0.72" fill="#000"/>
<circle cx="33.93" cy="33.93" r="0.72" fill="#bcbcbc"/>
<circle cx="32.19" cy="35.67" r="0.72" fill="#000"/>
<circle cx="33.93" cy="37.41" r="0.72" fill="#bcbcbc"/>
<circle cx="32.19" cy="39.15" r="0.72" fill="#000"/>
<circle cx="33.93" cy="40.89" r="0.72" fill="#bcbcbc"/>
<circle cx="32.19" cy="42.63" r="0.72" fill="#000"/>
<circle cx="33.93" cy="44.37" r="0.72" fill="#bcbcbc"/>
<circle cx="32.19" cy="46.11" r="0.72" fill="#000"/>
<circle cx="33.93" cy="47.85" r="0.72" fill="#bcbcbc"/>
<circle cx="32.19" cy="49.59" r="0.72" fill="#000"/>
<circle cx="33.93" cy="51.33" r="0.72" fill="#bcbcbc"/>
<circle cx="32.19" cy="53.07" r="0.72" fill="#000"/>
<circle cx="33.93" cy="54.81" r="0.72" fill="#bcbcbc"/>
<circle cx="35.67" cy="0.87" r="0.72" fill="#000"/>
<circle cx="37.41" cy="2.61" r="0.72" fill="#bcbcbc"/>
<circle cx="35.67" cy="4.35" r="0.72" fill="#000"/>
<circle cx="37.41" cy="6.09" r="0.72" fill="#bcbcbc"/>
<circle cx="35.67" cy="7.83" r="0.72" fill="#000"/>
<circle cx="37.41" cy="9.57" r="0.72" fill="#bcbcbc"/>
<circle cx="35.67" cy="11.31" r="0.72" fill="#000"/>
<circle cx="37.41" cy="13.05" r="0.72" fill="#bcbcbc"/>
<circle cx="35.67" cy="14.79" r="0.72" fill="#000"/>
<circle cx="37.41" cy="16.53" r="0.72" fill="#bcbcbc"/>
<circle cx="35.67" cy="18.27" r="0.72" fill="#000"/>
<circle cx="37.41" cy="20.01" r="0.72" fill="#bcbcbc"/>
<circle cx="35.67" cy="21.75" r="0.72" fill="#000"/>
<circle cx="37.41" cy="23.49" r="0.72" fill="#bcbcbc"/>
<circle cx="35.67" cy="25.23" r="0.72" fill="#000"/>
<circle cx="37.41" cy="26.97" r="0.72" fill="#bcbcbc"/>
<circle cx="35.67" cy="28.71" r="0.72" fill="#000"/>
<circle cx="37.41" cy="30.45" r="0.72" fill="#bcbcbc"/>
<circle cx="35.67" cy="32.19" r="0.72" fill="#000"/>
<circle cx="37.41" cy="33.93" r="0.72" fill="#bcbcbc"/>
<circle cx="35.67" cy="35.67" r="0.72" fill="#000"/>
<circle cx="37.41" cy="37.41" r="0.72" fill="#bcbcbc"/>
<circle cx="35.67" cy="39.15" r="0.72" fill="#000"/>
<circle cx="37.41" cy="40.89" r="0.72" fill="#bcbcbc"/>
<circle cx="35.67" cy="42.63" r="0.72" fill="#000"/>
<circle cx="37.41" cy="44.37" r="0.72" fill="#bcbcbc"/>
<circle cx="35.67" cy="46.11" r="0.72" fill="#000"/>
<circle cx="37.41" cy="47.85" r="0.72" fill="#bcbcbc"/>
<circle cx="35.67" cy="49.59" r="0.72" fill="#000"/>
<circle cx="37.41" cy="51.33" r="0.72" fill="#bcbcbc"/>
<circle cx="35.67" cy="53.07" r="0.72" fill="#000"/>
<circle cx="37.41" cy="54.81" r="0.72" fill="#bcbcbc"/>
<circle cx="39.15" cy="0.87" r="0.72" fill="#000"/>
<circle cx="40.89" cy="2.61" r="0.72" fill="#bcbcbc"/>
<circle cx="39.15" cy="4.35" r="0.72" fill="#000"/>
<circle cx="40.89" cy="6.09" r="0.72" fill="#bcbcbc"/>
<circle cx="39.15" cy="7.83" r="0.72" fill="#000"/>
<circle cx="40.89" cy="9.57" r="0.72" fill="#bcbcbc"/>
<circle cx="39.15" cy="11.31" r="0.72" fill="#000"/>
<circle cx="40.89" cy="13.05" r="0.72" fill="#bcbcbc"/>
<circle cx="39.15" cy="14.79" r="0.72" fill="#000"/>
<circle cx="40.89" cy="16.53" r="0.72" fill="#bcbcbc"/>
<circle cx="39.15" cy="18.27" r="0.72" fill="#000"/>
<circle cx="40.89" cy="20.01" r="0.72" fill="#bcbcbc"/>
<circle cx="39.15" cy="21.75" r="0.72" fill="#000"/>
<circle cx="40.89" cy="23.49" r="0.72" fill="#bcbcbc"/>
<circle cx="39.15" cy="25.23" r="0.72" fill="#000"/>
<circle cx="40.89" cy="26.97" r="0.72" fill="#bcbcbc"/>
<circle cx="39.15" cy="28.71" r="0.72" fill="#000"/>
<circle cx="40.89" cy="30.45" r="0.72" fill="#bcbcbc"/>
<circle cx="39.15" cy="32.19" r="0.72" fill="#000"/>
<circle cx="40.89" cy="33.93" r="0.72" fill="#bcbcbc"/>
<circle cx="39.15" cy="35.67" r="0.72" fill="#000"/>
<circle cx="40.89" cy="37.41" r="0.72" fill="#bcbcbc"/>
<circle cx="39.15" cy="39.15" r="0.72" fill="#000"/>
<circle cx="40.89" cy="40.89" r="0.72" fill="#bcbcbc"/>
<circle cx="39.15" cy="42.63" r="0.72" fill="#000"/>
<circle cx="40.89" cy="44.37" r="0.72" fill="#bcbcbc"/>
<circle cx="39.15" cy="46.11" r="0.72" fill="#000"/>
<circle cx="40.89" cy="47.85" r="0.72" fill="#bcbcbc"/>
<circle cx="39.15" cy="49.59" r="0.72" fill="#000"/>
<circle cx="40.89" cy="51.33" r="0.72" fill="#bcbcbc"/>
<circle cx="39.15" cy="53.07" r="0.72" fill="#000"/>
<circle cx="40.89" cy="54.81" r="0.72" fill="#bcbcbc"/>
<circle cx="42.63" cy="0.87" r="0.72" fill="#000"/>
<circle cx="44.37" cy="2.61" r="0.72" fill="#bcbcbc"/>
<circle cx="42.63" cy="4.35" r="0.72" fill="#000"/>
<circle cx="44.37" cy="6.09" r="0.72" fill="#bcbcbc"/>
<circle cx="42.63" cy="7.83" r="0.72" fill="#000"/>
<circle cx="44.37" cy="9.57" r="0.72" fill="#bcbcbc"/>
<circle cx="42.63" cy="11.31" r="0.72" fill="#000"/>
<circle cx="44.37" cy="13.05" r="0.72" fill="#bcbcbc"/>
<circle cx="42.63" cy="14.79" r="0.72" fill="#000"/>
<circle cx="44.37" cy="16.53" r="0.72" fill="#bcbcbc"/>
<circle cx="42.63" cy="18.27" r="0.72" fill="#000"/>
<circle cx="44.37" cy="20.01" r="0.72" fill="#bcbcbc"/>
<circle cx="42.63" cy="21.75" r="0.72" fill="#000"/>
<circle cx="44.37" cy="23.49" r="0.72" fill="#bcbcbc"/>
<circle cx="42.63" cy="25.23" r="0.72" fill="#000"/>
<circle cx="44.37" cy="26.97" r="0.72" fill="#bcbcbc"/>
<circle cx="42.63" cy="28.71" r="0.72" fill="#000"/>
<circle cx="44.37" cy="30.45" r="0.72" fill="#bcbcbc"/>
<circle cx="42.63" cy="32.19" r="0.72" fill="#000"/>
<circle cx="44.37" cy="33.93" r="0.72" fill="#bcbcbc"/>
<circle cx="42.63" cy="35.67" r="0.72" fill="#000"/>
<circle cx="44.37" cy="37.41" r="0.72" fill="#bcbcbc"/>
<circle cx="42.63" cy="39.15" r="0.72" fill="#000"/>
<circle cx="44.37" cy="40.89" r="0.72" fill="#bcbcbc"/>
<circle cx="42.63" cy="42.63" r="0.72" fill="#000"/>
<circle cx="44.37" cy="44.37" r="0.72" fill="#bcbcbc"/>
<circle cx="42.63" cy="46.11" r="0.72" fill="#000"/>
<circle cx="44.37" cy="47.85" r="0.72" fill="#bcbcbc"/>
<circle cx="42.63" cy="49.59" r="0.72" fill="#000"/>
<circle cx="44.37" cy="51.33" r="0.72" fill="#bcbcbc"/>
<circle cx="42.63" cy="53.07" r="0.72" fill="#000"/>
<circle cx="44.37" cy="54.81" r="0.72" fill="#bcbcbc"/>
<circle cx="46.11" cy="0.87" r="0.72" fill="#000"/>
<circle cx="47.85" cy="2.61" r="0.72" fill="#bcbcbc"/>
<circle cx="46.11" cy="4.35" r="0.72" fill="#000"/>
<circle cx="47.85" cy="6.09" r="0.72" fill="#bcbcbc"/>
<circle cx="46.11" cy="7.83" r="0.72" fill="#000"/>
<circle cx="47.85" cy="9.57" r="0.72" fill="#bcbcbc"/>
<circle cx="46.11" cy="11.31" r="0.72" fill="#000"/>
<circle cx="47.85" cy="13.05" r="0.72" fill="#bcbcbc"/>
<circle cx="46.11" cy="14.79" r="0.72" fill="#000"/>
<circle cx="47.85" cy="16.53" r="0.72" fill="#bcbcbc"/>
<circle cx="46.11" cy="18.27" r="0.72" fill="#000"/>
<circle cx="47.85" cy="20.01" r="0.72" fill="#bcbcbc"/>
<circle cx="46.11" cy="21.75" r="0.72" fill="#000"/>
<circle cx="47.85" cy="23.49" r="0.72" fill="#bcbcbc"/>
<circle cx="46.11" cy="25.23" r="0.72" fill="#000"/>
<circle cx="47.85" cy="26.97" r="0.72" fill="#bcbcbc"/>
<circle cx="46.11" cy="28.71" r="0.72" fill="#000"/>
<circle cx="47.85" cy="30.45" r="0.72" fill="#bcbcbc"/>
<circle cx="46.11" cy="32.19" r="0.72" fill="#000"/>
<circle cx="47.85" cy="33.93" r="0.72" fill="#bcbcbc"/>
<circle cx="46.11" cy="35.67" r="0.72" fill="#000"/>
<circle cx="47.85" cy="37.41" r="0.72" fill="#bcbcbc"/>
<circle cx="46.11" cy="39.15" r="0.72" fill="#000"/>
<circle cx="47.85" cy="40.89" r="0.72" fill="#bcbcbc"/>
<circle cx="46.11" cy="42.63" r="0.72" fill="#000"/>
<circle cx="47.85" cy="44.37" r="0.72" fill="#bcbcbc"/>
<circle cx="46.11" cy="46.11" r="0.72" fill="#000"/>
<circle cx="47.85" cy="47.85" r="0.72" fill="#bcbcbc"/>
<circle cx="46.11" cy="49.59" r="0.72" fill="#000"/>
<circle cx="47.85" cy="51.33" r="0.72" fill="#bcbcbc"/>
<circle cx="46.11" cy="53.07" r="0.72" fill="#000"/>
<circle cx="47.85" cy="54.81" r="0.72" fill="#bcbcbc"/>
<circle cx="49.59" cy="0.87" r="0.72" fill="#000"/>
<circle cx="51.33" cy="2.61" r="0.72" fill="#bcbcbc"/>
<circle cx="49.59" cy="4.35" r="0.72" fill="#000"/>
<circle cx="51.33" cy="6.09" r="0.72" fill="#bcbcbc"/>
<circle cx="49.59" cy="7.83" r="0.72" fill="#000"/>
<circle cx="51.33" cy="9.57" r="0.72" fill="#bcbcbc"/>
<circle cx="49.59" cy="11.31" r="0.72" fill="#000"/>
<circle cx="51.33" cy="13.05" r="0.72" fill="#bcbcbc"/>
<circle cx="49.59" cy="14.79" r="0.72" fill="#000"/>
<circle cx="51.33" cy="16.53" r="0.72" fill="#bcbcbc"/>
<circle cx="49.59" cy="18.27" r="0.72" fill="#000"/>
<circle cx="51.33" cy="20.01" r="0.72" fill="#bcbcbc"/>
<circle cx="49.59" cy="21.75" r="0.72" fill="#000"/>
<circle cx="51.33" cy="23.49" r="0.72" fill="#bcbcbc"/>
<circle cx="49.59" cy="25.23" r="0.72" fill="#000"/>
<circle cx="51.33" cy="26.97" r="0.72" fill="#bcbcbc"/>
<circle cx="49.59" cy="28.71" r="0.72" fill="#000"/>
<circle cx="51.33" cy="30.45" r="0.72" fill="#bcbcbc"/>
<circle cx="49.59" cy="32.19" r="0.72" fill="#000"/>
<circle cx="51.33" cy="33.93" r="0.72" fill="#bcbcbc"/>
<circle cx="49.59" cy="35.67" r="0.72" fill="#000"/>
<circle cx="51.33" cy="37.41" r="0.72" fill="#bcbcbc"/>
<circle cx="49.59" cy="39.15" r="0.72" fill="#000"/>
<circle cx="51.33" cy="40.89" r="0.72" fill="#bcbcbc"/>
<circle cx="49.59" cy="42.63" r="0.72" fill="#000"/>
<circle cx="51.33" cy="44.37" r="0.72" fill="#bcbcbc"/>
<circle cx="49.59" cy="46.11" r="0.72" fill="#000"/>
<circle cx="51.33" cy="47.85" r="0.72" fill="#bcbcbc"/>
<circle cx="49.59" cy="49.59" r="0.72" fill="#000"/>
<circle cx="51.33" cy="51.33" r="0.72" fill="#bcbcbc"/>
<circle cx="49.59" cy="53.07" r="0.72" fill="#000"/>
<circle cx="51.33" cy="54.81" r="0.72" fill="#bcbcbc"/>
<circle cx="53.07" cy="0.87" r="0.72" fill="#000"/>
<circle cx="54.81" cy="2.61" r="0.72" fill="#bcbcbc"/>
<circle cx="53.07" cy="4.35" r="0.72" fill="#000"/>
<circle cx="54.81" cy="6.09" r="0.72" fill="#bcbcbc"/>
<circle cx="53.07" cy="7.83" r="0.72" fill="#000"/>
<circle cx="54.81" cy="9.57" r="0.72" fill="#bcbcbc"/>
<circle cx="53.07" cy="11.31" r="0.72" fill="#000"/>
<circle cx="54.81" cy="13.05" r="0.72" fill="#bcbcbc"/>
<circle cx="53.07" cy="14.79" r="0.72" fill="#000"/>
<circle cx="54.81" cy="16.53" r="0.72" fill="#bcbcbc"/>
<circle cx="53.07" cy="18.27" r="0.72" fill="#000"/>
<circle cx="54.81" cy="20.01" r="0.72" fill="#bcbcbc"/>
<circle cx="53.07" cy="21.75" r="0.72" fill="#000"/>
<circle cx="54.81" cy="23.49" r="0.72" fill="#bcbcbc"/>
<circle cx="53.07" cy="25.23" r="0.72" fill="#000"/>
<circle cx="54.81" cy="26.97" r="0.72" fill="#bcbcbc"/>
<circle cx="53.07" cy="28.71" r="0.72" fill="#000"/>
<circle cx="54.81" cy="30.45" r="0.72" fill="#bcbcbc"/>
<circle cx="53.07" cy="32.19" r="0.72" fill="#000"/>
<circle cx="54.81" cy="33.93" r="0.72" fill="#bcbcbc"/>
<circle cx="53.07" cy="35.67" r="0.72" fill="#000"/>
<circle cx="54.81" cy="37.41" r="0.72" fill="#bcbcbc"/>
<circle cx="53.07" cy="39.15" r="0.72" fill="#000"/>
<circle cx="54.81" cy="40.89" r="0.72" fill="#bcbcbc"/>
<circle cx="53.07" cy="42.63" r="0.72" fill="#000"/>
<circle cx="54.81" cy="44.37" r="0.72" fill="#bcbcbc"/>
<circle cx="53.07" cy="46.11" r="0.72" fill="#000"/>
<circle cx="54.81" cy="47.85" r="0.72" fill="#bcbcbc"/>
<circle cx="53.07" cy="49.59" r="0.72" fill="#000"/>
<circle cx="54.81" cy="51.33" r="0.72" fill="#bcbcbc"/>
<circle cx="53.07" cy="53.07" r="0.72" fill="#000"/>
<circle cx="54.81" cy="54.81" r="0.72" fill="#bcbcbc"/>
</pattern>
</defs>
<rect width="560" height="1378" fill="#fff"/>

<line x1="125" y1="68.0" x2="548.6" y2="68.0" stroke="#dedede" stroke-width="1"/>
<text x="113.3" y="72.3" font-size="14" fill="#595959" text-anchor="end" >2500</text>
<line x1="125" y1="132.8" x2="548.6" y2="132.8" stroke="#dedede" stroke-width="1"/>
<text x="113.3" y="137.10000000000002" font-size="14" fill="#595959" text-anchor="end" >2000</text>
<line x1="125" y1="197.6" x2="548.6" y2="197.6" stroke="#dedede" stroke-width="1"/>
<text x="113.3" y="201.9" font-size="14" fill="#595959" text-anchor="end" >1500</text>
<line x1="125" y1="262.4" x2="548.6" y2="262.4" stroke="#dedede" stroke-width="1"/>
<text x="113.3" y="266.7" font-size="14" fill="#595959" text-anchor="end" >1000</text>
<line x1="125" y1="327.2" x2="548.6" y2="327.2" stroke="#dedede" stroke-width="1"/>
<text x="113.3" y="331.5" font-size="14" fill="#595959" text-anchor="end" >500</text>
<line x1="125" y1="392.0" x2="548.6" y2="392.0" stroke="#dedede" stroke-width="1"/>
<text x="113.3" y="396.3" font-size="14" fill="#595959" text-anchor="end" >0</text>
<text x="317.5" y="39.6" font-size="27.4" fill="#1c1c1c" text-anchor="middle" >Transwell migration assay</text>
<text transform="translate(64.7,231.4) rotate(-90)" font-size="21.3" fill="#1c1c1c" text-anchor="middle">The number of migrated cells</text>
<rect x="153.70" y="126.70" width="84.00" height="265.30" fill="url(#dots)" stroke="#707070" stroke-width="1"/>
<line x1="195.7" y1="111.5" x2="195.7" y2="126.7" stroke="#808080" stroke-width="1"/>
<line x1="194.2" y1="111.5" x2="197.2" y2="111.5" stroke="#808080" stroke-width="1"/>
<rect x="295.00" y="319.50" width="83.70" height="72.50" fill="url(#fine)" stroke="#2a2a2a" stroke-width="0.6"/>
<line x1="336.9" y1="312.6" x2="336.9" y2="319.5" stroke="#808080" stroke-width="1"/>
<line x1="335.4" y1="312.6" x2="338.4" y2="312.6" stroke="#808080" stroke-width="1"/>
<rect x="436.00" y="345.40" width="84.00" height="46.60" fill="url(#chk)" stroke="#2a2a2a" stroke-width="0.6"/>
<line x1="477.9" y1="341.6" x2="477.9" y2="345.4" stroke="#808080" stroke-width="1"/>
<line x1="476.4" y1="341.6" x2="479.4" y2="341.6" stroke="#808080" stroke-width="1"/>
<line x1="195" y1="76.7" x2="473.5" y2="76.7" stroke="#949494" stroke-width="1.8"/>
<line x1="195" y1="95.1" x2="331.6" y2="95.1" stroke="#949494" stroke-width="1.8"/>
<text x="266.3" y="72.7" font-size="14" fill="#4a4a4a" text-anchor="middle" >*</text>
<text x="266.3" y="93.7" font-size="14" fill="#4a4a4a" text-anchor="middle" >*</text>
<text x="480.3" y="187.8" font-size="15.2" fill="#1c1c1c" text-anchor="start" >* p&lt;0.05</text>
<text x="194.2" y="418.2" font-size="15.6" fill="#1c1c1c" text-anchor="middle" >Control</text>
<text x="194.2" y="448.6" font-size="15.9" fill="#1c1c1c" text-anchor="middle" >(n= 3)</text>
<text x="337" y="412" font-size="15.6" fill="#1c1c1c" text-anchor="middle" >Single cell</text>
<text x="337" y="428.3" font-size="15.6" fill="#1c1c1c" text-anchor="middle" >Treatment</text>
<text x="333.8" y="447.9" font-size="15.9" fill="#1c1c1c" text-anchor="middle" >(n= 3)</text>
<text x="479.3" y="410.4" font-size="15.6" fill="#1c1c1c" text-anchor="middle" >Spheroid</text>
<text x="480.3" y="426.3" font-size="15.6" fill="#1c1c1c" text-anchor="middle" >Treatment</text>
<text x="477.6" y="446.5" font-size="15.9" fill="#1c1c1c" text-anchor="middle" >(n= 3)</text>
<line x1="114.6" y1="523.5" x2="548.6" y2="523.5" stroke="#dedede" stroke-width="1"/>
<text x="103.0" y="527.7" font-size="14" fill="#595959" text-anchor="end" >1.2</text>
<line x1="114.6" y1="577.8" x2="548.6" y2="577.8" stroke="#dedede" stroke-width="1"/>
<text x="103.0" y="582.0" font-size="14" fill="#595959" text-anchor="end" >1</text>
<line x1="114.6" y1="632.1" x2="548.6" y2="632.1" stroke="#dedede" stroke-width="1"/>
<text x="103.0" y="636.3000000000001" font-size="14" fill="#595959" text-anchor="end" >0.8</text>
<line x1="114.6" y1="686.4" x2="548.6" y2="686.4" stroke="#dedede" stroke-width="1"/>
<text x="103.0" y="690.6" font-size="14" fill="#595959" text-anchor="end" >0.6</text>
<line x1="114.6" y1="740.6999999999999" x2="548.6" y2="740.6999999999999" stroke="#dedede" stroke-width="1"/>
<text x="103.0" y="744.9" font-size="14" fill="#595959" text-anchor="end" >0.4</text>
<line x1="114.6" y1="795.0" x2="548.6" y2="795.0" stroke="#dedede" stroke-width="1"/>
<text x="103.0" y="799.2" font-size="14" fill="#595959" text-anchor="end" >0.2</text>
<line x1="114.6" y1="849.3" x2="548.6" y2="849.3" stroke="#dedede" stroke-width="1"/>
<text x="103.0" y="853.5" font-size="14" fill="#595959" text-anchor="end" >0</text>
<text x="316.9" y="497.2" font-size="27.4" fill="#1c1c1c" text-anchor="middle" >Cell proliferation assay</text>
<text transform="translate(64.6,688) rotate(-90)" font-size="21.1" fill="#1c1c1c" text-anchor="middle">Absorbance at 450 nm</text>
<rect x="143.50" y="620.40" width="86.60" height="228.90" fill="url(#dots)" stroke="#707070" stroke-width="1"/>
<line x1="187.3" y1="588.1" x2="187.3" y2="620.4" stroke="#808080" stroke-width="1"/>
<line x1="185.8" y1="588.1" x2="188.8" y2="588.1" stroke="#808080" stroke-width="1"/>
<rect x="288.60" y="730.40" width="86.00" height="118.90" fill="url(#fine)" stroke="#2a2a2a" stroke-width="0.6"/>
<line x1="331.6" y1="725.5" x2="331.6" y2="730.4" stroke="#808080" stroke-width="1"/>
<line x1="330.1" y1="725.5" x2="333.1" y2="725.5" stroke="#808080" stroke-width="1"/>
<rect x="432.80" y="744.40" width="87.40" height="104.90" fill="url(#chk)" stroke="#2a2a2a" stroke-width="0.6"/>
<line x1="476.1" y1="733.8" x2="476.1" y2="744.4" stroke="#808080" stroke-width="1"/>
<line x1="474.6" y1="733.8" x2="477.6" y2="733.8" stroke="#808080" stroke-width="1"/>
<line x1="187" y1="543.2" x2="475.1" y2="543.2" stroke="#949494" stroke-width="1.8"/>
<line x1="187" y1="560.9" x2="327.2" y2="560.9" stroke="#949494" stroke-width="1.8"/>
<text x="258.8" y="539.3" font-size="14" fill="#4a4a4a" text-anchor="middle" >*</text>
<text x="258.8" y="560.1" font-size="14" fill="#4a4a4a" text-anchor="middle" >*</text>
<text x="474.3" y="622.1" font-size="15.2" fill="#1c1c1c" text-anchor="start" >* p&lt;0.05</text>
<text x="194.2" y="875.9" font-size="15.6" fill="#1c1c1c" text-anchor="middle" >Control</text>
<text x="194.2" y="906.3" font-size="15.9" fill="#1c1c1c" text-anchor="middle" >(n= 3)</text>
<text x="337" y="869.7" font-size="15.6" fill="#1c1c1c" text-anchor="middle" >Single cell</text>
<text x="337" y="886.0" font-size="15.6" fill="#1c1c1c" text-anchor="middle" >Treatment</text>
<text x="333.8" y="905.5999999999999" font-size="15.9" fill="#1c1c1c" text-anchor="middle" >(n= 3)</text>
<text x="479.3" y="868.0999999999999" font-size="15.6" fill="#1c1c1c" text-anchor="middle" >Spheroid</text>
<text x="480.3" y="884.0" font-size="15.6" fill="#1c1c1c" text-anchor="middle" >Treatment</text>
<text x="477.6" y="904.2" font-size="15.9" fill="#1c1c1c" text-anchor="middle" >(n= 3)</text>
<line x1="111.7" y1="984.2" x2="520.8" y2="984.2" stroke="#dedede" stroke-width="1"/>
<text x="105.2" y="987.3000000000001" font-size="13.3" fill="#595959" text-anchor="end" >90</text>
<line x1="111.7" y1="1017.8222222222223" x2="520.8" y2="1017.8222222222223" stroke="#dedede" stroke-width="1"/>
<text x="105.2" y="1020.9222222222223" font-size="13.3" fill="#595959" text-anchor="end" >80</text>
<line x1="111.7" y1="1051.4444444444446" x2="520.8" y2="1051.4444444444446" stroke="#dedede" stroke-width="1"/>
<text x="105.2" y="1054.5444444444445" font-size="13.3" fill="#595959" text-anchor="end" >70</text>
<line x1="111.7" y1="1085.0666666666666" x2="520.8" y2="1085.0666666666666" stroke="#dedede" stroke-width="1"/>
<text x="105.2" y="1088.1666666666665" font-size="13.3" fill="#595959" text-anchor="end" >60</text>
<line x1="111.7" y1="1118.6888888888889" x2="520.8" y2="1118.6888888888889" stroke="#dedede" stroke-width="1"/>
<text x="105.2" y="1121.7888888888888" font-size="13.3" fill="#595959" text-anchor="end" >50</text>
<line x1="111.7" y1="1152.3111111111111" x2="520.8" y2="1152.3111111111111" stroke="#dedede" stroke-width="1"/>
<text x="105.2" y="1155.411111111111" font-size="13.3" fill="#595959" text-anchor="end" >40</text>
<line x1="111.7" y1="1185.9333333333334" x2="520.8" y2="1185.9333333333334" stroke="#dedede" stroke-width="1"/>
<text x="105.2" y="1189.0333333333333" font-size="13.3" fill="#595959" text-anchor="end" >30</text>
<line x1="111.7" y1="1219.5555555555557" x2="520.8" y2="1219.5555555555557" stroke="#dedede" stroke-width="1"/>
<text x="105.2" y="1222.6555555555556" font-size="13.3" fill="#595959" text-anchor="end" >20</text>
<line x1="111.7" y1="1253.1777777777777" x2="520.8" y2="1253.1777777777777" stroke="#dedede" stroke-width="1"/>
<text x="105.2" y="1256.2777777777776" font-size="13.3" fill="#595959" text-anchor="end" >10</text>
<line x1="111.7" y1="1286.8" x2="520.8" y2="1286.8" stroke="#dedede" stroke-width="1"/>
<text x="105.2" y="1289.8999999999999" font-size="13.3" fill="#595959" text-anchor="end" >0</text>
<text x="304.3" y="963.5" font-size="25.7" fill="#1c1c1c" text-anchor="middle" >Apoptosis assay</text>
<text transform="translate(73.7,1135.0) rotate(-90)" font-size="16.85" fill="#1c1c1c" text-anchor="middle">Luminescence (RLU), background substracted</text>
<text x="79.2" y="971.5" font-size="13.5" fill="#4a4a4a">(1×10<tspan font-size="7.5" dy="-5">3</tspan><tspan dy="5">)</tspan></text>
<rect x="116.95" y="1047.10" width="41.60" height="239.70" fill="url(#fine)" stroke="#2a2a2a" stroke-width="0.6"/>
<line x1="138.25" y1="1017.1" x2="138.25" y2="1047.1" stroke="#808080" stroke-width="1"/>
<line x1="136.75" y1="1017.1" x2="139.75" y2="1017.1" stroke="#808080" stroke-width="1"/>
<rect x="158.55" y="1186.10" width="41.60" height="100.70" fill="url(#chk)" stroke="#2a2a2a" stroke-width="0.6"/>
<line x1="179.85000000000002" y1="1162.3" x2="179.85000000000002" y2="1186.1" stroke="#808080" stroke-width="1"/>
<line x1="178.35000000000002" y1="1162.3" x2="181.35000000000002" y2="1162.3" stroke="#808080" stroke-width="1"/>
<rect x="200.15" y="1278.50" width="41.60" height="8.30" fill="url(#dots)" stroke="#707070" stroke-width="1"/>
<rect x="253.62" y="1182.90" width="41.60" height="103.90" fill="url(#fine)" stroke="#2a2a2a" stroke-width="0.6"/>
<line x1="274.91999999999996" y1="1162.3" x2="274.91999999999996" y2="1182.9" stroke="#808080" stroke-width="1"/>
<line x1="273.41999999999996" y1="1162.3" x2="276.41999999999996" y2="1162.3" stroke="#808080" stroke-width="1"/>
<rect x="295.22" y="1203.80" width="41.60" height="83.00" fill="url(#chk)" stroke="#2a2a2a" stroke-width="0.6"/>
<line x1="316.52" y1="1173.8" x2="316.52" y2="1203.8" stroke="#808080" stroke-width="1"/>
<line x1="315.02" y1="1173.8" x2="318.02" y2="1173.8" stroke="#808080" stroke-width="1"/>
<rect x="336.82" y="1279.40" width="41.60" height="7.40" fill="url(#dots)" stroke="#707070" stroke-width="1"/>
<rect x="390.29" y="1166.50" width="41.60" height="120.30" fill="url(#fine)" stroke="#2a2a2a" stroke-width="0.6"/>
<line x1="411.59" y1="1147.1" x2="411.59" y2="1166.5" stroke="#808080" stroke-width="1"/>
<line x1="410.09" y1="1147.1" x2="413.09" y2="1147.1" stroke="#808080" stroke-width="1"/>
<rect x="431.89" y="1170.70" width="41.60" height="116.10" fill="url(#chk)" stroke="#2a2a2a" stroke-width="0.6"/>
<line x1="453.19" y1="1150.0" x2="453.19" y2="1170.7" stroke="#808080" stroke-width="1"/>
<line x1="451.69" y1="1150.0" x2="454.69" y2="1150.0" stroke="#808080" stroke-width="1"/>
<rect x="473.49" y="1278.50" width="41.60" height="8.30" fill="url(#dots)" stroke="#707070" stroke-width="1"/>
<line x1="137.1" y1="1009.6" x2="183.4" y2="1009.6" stroke="#949494" stroke-width="1.8"/>
<text x="159.6" y="1004.8" font-size="12.8" fill="#4a4a4a" text-anchor="middle" >*</text>
<rect x="393.10" y="989.30" width="121.20" height="56.00" fill="#fff" stroke="#4a4a4a" stroke-width="1"/>
<rect x="399.80" y="995.30" width="11.20" height="11.00" fill="url(#fine)" stroke="#2a2a2a" stroke-width="0.6"/>
<rect x="399.80" y="1012.40" width="11.20" height="11.00" fill="url(#chk)" stroke="#2a2a2a" stroke-width="0.6"/>
<rect x="399.80" y="1029.20" width="11.20" height="10.50" fill="url(#dots)" stroke="#7f7f7f" stroke-width="1"/>
<text x="415.7" y="1005.1" font-size="13" fill="#1c1c1c" text-anchor="start" >ADSC single cell</text>
<text x="415.7" y="1022.3" font-size="13" fill="#1c1c1c" text-anchor="start" >ADSC spheroid</text>
<text x="415.7" y="1038" font-size="13" fill="#1c1c1c" text-anchor="start" >control</text>
<text x="451.4" y="1080" font-size="15.2" fill="#1c1c1c" text-anchor="start" >* p&lt;0.05</text>
<text x="171.6" y="1309.7" font-size="14.4" fill="#1c1c1c" text-anchor="middle" >24h</text>
<text x="171.9" y="1325" font-size="14.6" fill="#1c1c1c" text-anchor="middle" >(n= 3)</text>
<text x="305" y="1309.7" font-size="14.4" fill="#1c1c1c" text-anchor="middle" >48h</text>
<text x="305.3" y="1325" font-size="14.6" fill="#1c1c1c" text-anchor="middle" >(n= 3)</text>
<text x="439.3" y="1309.7" font-size="14.4" fill="#1c1c1c" text-anchor="middle" >72h</text>
<text x="439.6" y="1325" font-size="14.6" fill="#1c1c1c" text-anchor="middle" >(n= 3)</text>
<text x="306.8" y="1355" font-size="19.2" fill="#1c1c1c" text-anchor="middle" >Time after stimulation with LPS</text>
<line x1="37.1" y1="2.5" x2="559.8" y2="2.5" stroke="#111" stroke-width="1.3"/>
<line x1="37.1" y1="1376.7" x2="559.8" y2="1376.7" stroke="#111" stroke-width="1.3"/>
<line x1="37.9" y1="2" x2="37.9" y2="1377.2" stroke="#2a2a2a" stroke-width="1.7"/>
<line x1="559" y1="2" x2="559" y2="1377.2" stroke="#2a2a2a" stroke-width="1.7"/>
<line x1="38" y1="459.8" x2="559" y2="459.8" stroke="#222" stroke-width="1.5"/>
<line x1="38" y1="917.5" x2="559" y2="917.5" stroke="#222" stroke-width="1.5"/>
<text x="0.9" y="37.5" font-size="28.6" fill="#111" text-anchor="start" >A</text>
<text x="1.1" y="495" font-size="28.8" fill="#111" text-anchor="start" >B</text>
<text x="2.1" y="945.3" font-size="29.2" fill="#111" text-anchor="start" >C</text>
</svg></body></html>
